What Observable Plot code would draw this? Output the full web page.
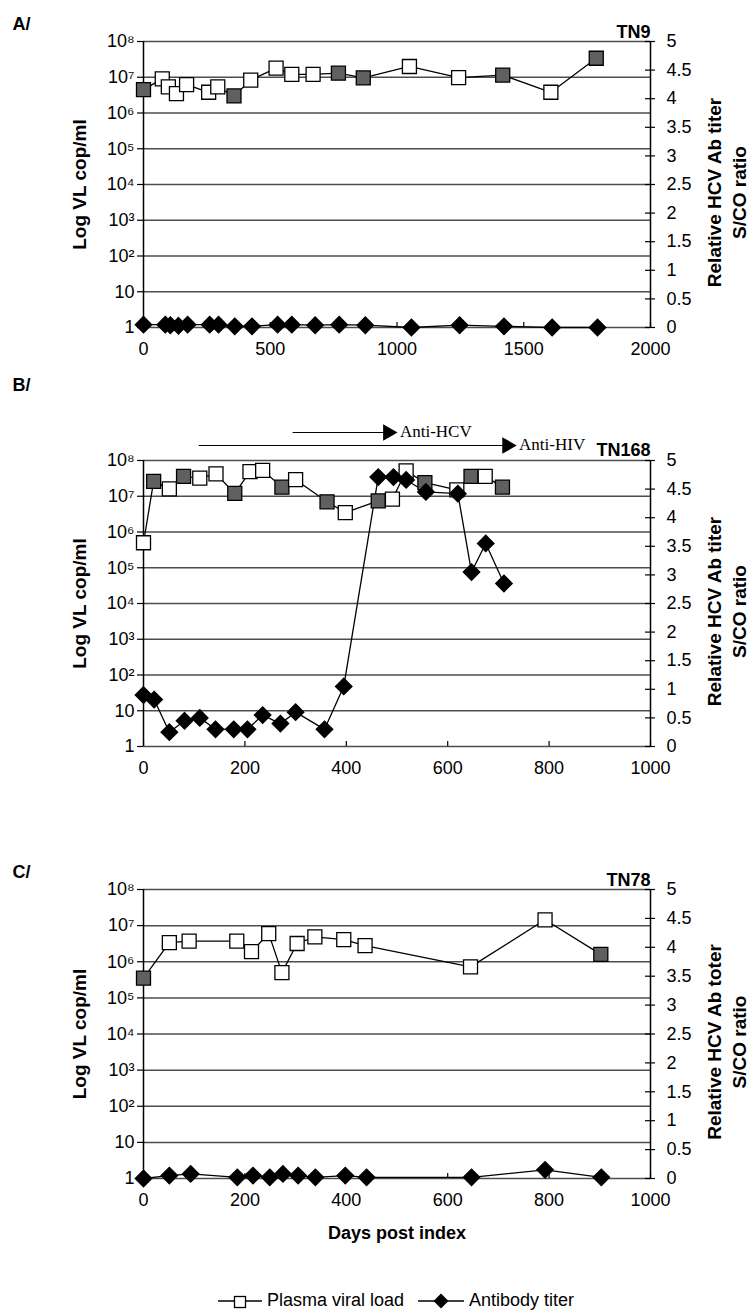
<!DOCTYPE html>
<html><head><meta charset="utf-8">
<script src="https://cdn.jsdelivr.net/npm/d3@7"></script>
<script src="https://cdn.jsdelivr.net/npm/@observablehq/plot@0.6"></script>
<style>
body{margin:0;background:#fff;font-family:"Liberation Sans",Arial,sans-serif;}
#wrap{position:relative;width:749px;height:1316px;overflow:hidden;}
.panel{position:absolute;left:0;}
#legend{position:absolute;top:1290px;left:218px;display:flex;align-items:center;font-size:18px;color:#000;}
#legend .item{display:flex;align-items:center;margin-right:14px;}
#legend svg{margin-right:5px;}
</style></head>
<body><div id="wrap"></div>
<script>
// ---------- Panel A (TN9) ----------
const aVLDays  = [0, 74, 98, 130, 170, 257, 293, 357, 423, 523, 585, 669, 769, 867, 1049, 1243, 1417, 1607, 1786];
const aVL      = [4.5e6, 9e6, 5.4e6, 3.5e6, 6.2e6, 3.8e6, 5.4e6, 3e6, 8.3e6, 1.8e7, 1.2e7, 1.2e7, 1.3e7, 9.6e6, 2e7, 9.8e6, 1.15e7, 3.8e6, 3.4e7];
const aFilled  = [1, 0, 0, 0, 0, 0, 0, 1, 0, 0, 0, 0, 1, 1, 0, 0, 1, 0, 1];
const aABDays  = [0, 86, 106, 138, 174, 261, 296, 360, 428, 529, 585, 677, 772, 875, 1057, 1247, 1422, 1612, 1791];
const aAB      = [0.05, 0.05, 0.04, 0.03, 0.05, 0.05, 0.05, 0.02, 0.02, 0.05, 0.05, 0.04, 0.05, 0.04, 0.0, 0.04, 0.02, 0.0, 0.0];
const aXTicks  = [0, 500, 1000, 1500, 2000];

// ---------- Panel B (TN168) ----------
const bVLDays  = [0, 20, 51, 79, 111, 143, 180, 210, 235, 273, 300, 362, 398, 463, 491, 518, 555, 618, 646, 674, 708];
const bVL      = [5e5, 2.6e7, 1.6e7, 3.6e7, 3.2e7, 4.2e7, 1.2e7, 4.9e7, 5.3e7, 1.8e7, 2.9e7, 7e6, 3.5e6, 7.4e6, 8.3e6, 5.1e7, 2.4e7, 1.5e7, 3.6e7, 3.6e7, 1.8e7];
const bFilled  = [0, 1, 0, 1, 0, 0, 1, 0, 0, 1, 0, 1, 0, 1, 0, 0, 1, 0, 1, 0, 1];
const bABDays  = [0, 21, 51, 81, 111, 142, 178, 205, 235, 270, 300, 357, 395, 463, 493, 518, 557, 620, 647, 675, 711];
const bAB      = [0.9, 0.82, 0.25, 0.45, 0.5, 0.3, 0.3, 0.3, 0.55, 0.4, 0.6, 0.3, 1.05, 4.71, 4.71, 4.66, 4.45, 4.42, 3.05, 3.55, 2.85];
const bXTicks  = [0, 200, 400, 600, 800, 1000];
const bTreatLabels = ["Anti-HCV", "Anti-HIV"];
const bTreatStart  = [295, 110];
const bTreatEnd    = [490, 725];

// ---------- Panel C (TN78) ----------
const cVLDays  = [0, 51, 90, 184, 213, 247, 273, 303, 338, 395, 437, 645, 792, 902];
const cVL      = [3.5e5, 3.4e6, 3.7e6, 3.7e6, 1.9e6, 6e6, 5e5, 3.2e6, 4.9e6, 4.1e6, 2.8e6, 7.2e5, 1.45e7, 1.6e6];
const cFilled  = [1, 0, 0, 0, 0, 0, 0, 0, 0, 0, 0, 0, 0, 1];
const cABDays  = [0, 51, 93, 185, 216, 249, 275, 305, 339, 398, 440, 647, 792, 903];
const cAB      = [0.0, 0.05, 0.08, 0.02, 0.05, 0.02, 0.08, 0.05, 0.02, 0.05, 0.02, 0.02, 0.15, 0.02];
const cXTicks  = [0, 200, 400, 600, 800, 1000];

// ---------- shared axis values ----------
const vlTicks = [1, 10, 1e2, 1e3, 1e4, 1e5, 1e6, 1e7, 1e8];
const titerTicks = [0, 0.5, 1, 1.5, 2, 2.5, 3, 3.5, 4, 4.5, 5];
const legendLabels = ["Plasma viral load", "Antibody titer"];

const supers = ["⁰","¹","²","³","⁴","⁵","⁶","⁷","⁸"];
// vertical scale is in decades (log10 of copies/ml); titer 0–5 shares the same 0–8 range
const lg = v => Math.log10(v);
const fmtLeft = k => { k = Math.round(k); return k === 0 ? "1" : k === 1 ? "10" : "10" + supers[k]; };
const titerToY = t => t * 8 / 5;
const yToTiter = y => Math.round(y * 5 / 8 * 10) / 10;

const SANS = "Liberation Sans, Arial, sans-serif";

function panel(o) {
  const vl = o.vlDays.map((d, i) => ({day: d, vl: o.vl[i], filled: o.filled[i]}));
  const ab = o.abDays.map((d, i) => ({day: d, titer: o.ab[i]}));
  const x0 = o.xTicks[0], x1 = o.xTicks[o.xTicks.length - 1];
  const decades = vlTicks.map(lg);
  const rightTicks = titerTicks.map(titerToY);
  const marks = [
    Plot.ruleY(decades, {stroke: "#4d4d4d", strokeWidth: 1.5}),
    Plot.ruleY(decades, {x1: x0, x2: x0, insetLeft: -6, insetRight: 0, stroke: "#000", strokeWidth: 1.2}),
    Plot.ruleY(rightTicks, {x1: x1, x2: x1, insetLeft: -5, insetRight: -5, stroke: "#000", strokeWidth: 1.2}),
    Plot.ruleX(o.xTicks, {y1: 0, y2: 0, insetTop: 0, insetBottom: 5, stroke: "#000", strokeWidth: 1.2}),
    Plot.ruleX([x0, x1], {stroke: "#000", strokeWidth: 1.5}),
    Plot.axisY({anchor: "left", ticks: decades, tickFormat: fmtLeft, tickSize: 0, tickPadding: 9, label: null}),
    Plot.axisY({anchor: "right", ticks: rightTicks, tickFormat: v => String(yToTiter(v)), tickSize: 0, tickPadding: 16, label: null}),
    Plot.axisX({ticks: o.xTicks, tickSize: 0, tickPadding: 15, tickFormat: d => String(d), label: null}),
    Plot.line(vl, {x: "day", y: d => lg(d.vl), stroke: "#000", strokeWidth: 1.3}),
    Plot.line(ab, {x: "day", y: d => titerToY(d.titer), stroke: "#000", strokeWidth: 1.3}),
    Plot.dot(vl, {x: "day", y: d => lg(d.vl), symbol: "square", r: 7.9, fill: d => d.filled ? "#606060" : "#ffffff", stroke: "#000", strokeWidth: 1.3}),
    Plot.dot(ab, {x: "day", y: d => titerToY(d.titer), symbol: "diamond2", r: 7.3, fill: "#000", stroke: "#000"}),
    Plot.text([o.leftTitle], {text: d => d, frameAnchor: "left", textAnchor: "middle", dx: -64, rotate: -90, fontSize: 19, fontWeight: "bold", fontFamily: SANS}),
    Plot.text([o.rightTitle], {text: d => d, frameAnchor: "right", textAnchor: "middle", lineAnchor: "middle", dx: 75, dy: 8, rotate: -90, fontSize: 19, fontWeight: "bold", lineHeight: 1.3, fontFamily: SANS}),
    Plot.text([o.label], {text: d => d, frameAnchor: "top-left", dx: -131, dy: o.labelDy, textAnchor: "start", fontSize: 18, fontWeight: "bold", fontFamily: SANS}),
    Plot.text([o.name], {text: d => d, frameAnchor: "top-right", dy: o.nameDy, textAnchor: "end", fontSize: 18, fontWeight: "bold", fontFamily: SANS})
  ];
  if (o.xTitle) marks.push(Plot.text([o.xTitle], {text: d => d, frameAnchor: "bottom", textAnchor: "middle", dy: 60, fontSize: 18, fontWeight: "bold", fontFamily: SANS}));
  if (o.treat) {
    o.treat.forEach((t, i) => {
      const dy = i === 0 ? -28 : -15;
      marks.push(Plot.ruleY([8], {x1: t.from, x2: t.to, dy, stroke: "#000", strokeWidth: 1.2}));
      marks.push(Plot.dot([t], {x: "to", y: () => 8, dy, dx: -4, symbol: "triangle", r: 6.2, rotate: 90, fill: "#000", stroke: "none"}));
      marks.push(Plot.text([t], {x: "to", y: () => 8, text: "label", dy: dy - 1, dx: 8, textAnchor: "start", fontSize: 17, fontFamily: "Liberation Serif, Times New Roman, serif"}));
    });
  }
  return Plot.plot({
    width: 749, height: o.height,
    marginLeft: 143, marginRight: 99, marginTop: o.marginTop, marginBottom: o.marginBottom,
    style: {fontFamily: SANS, fontSize: "18px", color: "#000", background: "transparent"},
    x: {domain: [x0, x1]},
    y: {domain: [0, 8]},
    marks
  });
}

const wrap = document.getElementById("wrap");
function place(el, top) { const d = document.createElement("div"); d.className = "panel"; d.style.top = top + "px"; d.appendChild(el); wrap.appendChild(d); }

place(panel({
  vlDays: aVLDays, vl: aVL, filled: aFilled, abDays: aABDays, ab: aAB, xTicks: aXTicks,
  height: 365, marginTop: 41, marginBottom: 38,
  label: "A/", labelDy: -24, name: "TN9", nameDy: -16,
  leftTitle: "Log VL cop/ml", rightTitle: "Relative HCV Ab titer\nS/CO ratio"
}), 0);

place(panel({
  vlDays: bVLDays, vl: bVL, filled: bFilled, abDays: bABDays, ab: bAB, xTicks: bXTicks,
  height: 421, marginTop: 95, marginBottom: 40,
  label: "B/", labelDy: -82, name: "TN168", nameDy: -17,
  leftTitle: "Log VL cop/ml", rightTitle: "Relative HCV Ab titer\nS/CO ratio",
  treat: bTreatLabels.map((l, i) => ({label: l, from: bTreatStart[i], to: bTreatEnd[i]}))
}), 365);

place(panel({
  vlDays: cVLDays, vl: cVL, filled: cFilled, abDays: cABDays, ab: cAB, xTicks: cXTicks,
  height: 418, marginTop: 49, marginBottom: 80,
  label: "C/", labelDy: -24, name: "TN78", nameDy: -16,
  leftTitle: "Log VL cop/ml", rightTitle: "Relative HCV Ab toter\nS/CO ratio",
  xTitle: "Days post index"
}), 840);

// legend
const leg = document.createElement("div");
leg.id = "legend";
const sq = '<svg width="44" height="16"><line x1="0" y1="8" x2="44" y2="8" stroke="#000" stroke-width="1.3"/><rect x="16.5" y="3.5" width="11" height="11" fill="#fff" stroke="#000" stroke-width="1.3"/></svg>';
const dm = '<svg width="46" height="18"><line x1="0" y1="9" x2="46" y2="9" stroke="#000" stroke-width="1.3"/><path d="M23 1.5 L30.5 9 L23 16.5 L15.5 9 Z" fill="#000"/></svg>';
leg.innerHTML = '<div class="item">' + sq + '<span>' + legendLabels[0] + '</span></div><div class="item">' + dm + '<span>' + legendLabels[1] + '</span></div>';
wrap.appendChild(leg);
</script>
</body></html>
